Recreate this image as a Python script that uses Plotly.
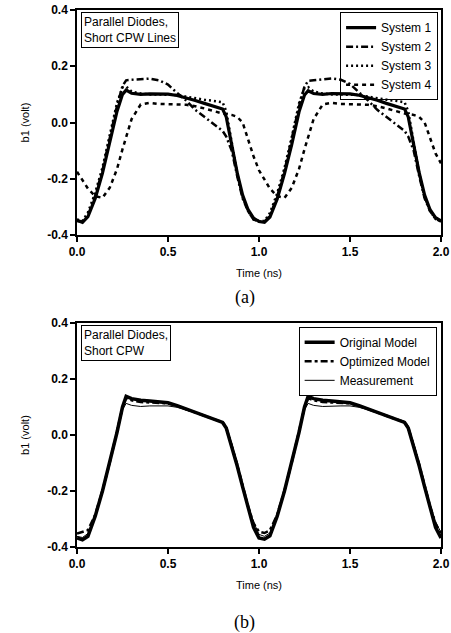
import plotly.graph_objects as go

# ---------------- data ----------------
time_ns = [0.0, 0.03, 0.06, 0.1, 0.14, 0.18, 0.22, 0.25, 0.27, 0.3, 0.35, 0.4, 0.45, 0.5,
           0.55, 0.6, 0.65, 0.7, 0.75, 0.8, 0.82, 0.85, 0.88, 0.91, 0.94, 0.97,
           1.0, 1.03, 1.06, 1.1, 1.14, 1.18, 1.22, 1.25, 1.27, 1.3, 1.35, 1.4, 1.45, 1.5,
           1.55, 1.6, 1.65, 1.7, 1.75, 1.8, 1.82, 1.85, 1.88, 1.91, 1.94, 1.97, 2.0]

system1 = [-0.348, -0.355, -0.335, -0.27, -0.18, -0.075, 0.04, 0.1, 0.115, 0.104, 0.1, 0.102, 0.102, 0.101,
           0.096, 0.088, 0.078, 0.068, 0.058, 0.048, 0.02, -0.08, -0.178, -0.258, -0.31, -0.34,
           -0.352, -0.355, -0.336, -0.272, -0.182, -0.078, 0.038, 0.098, 0.113, 0.103, 0.1, 0.103, 0.103, 0.102,
           0.097, 0.089, 0.079, 0.068, 0.058, 0.048, 0.02, -0.08, -0.178, -0.258, -0.31, -0.338, -0.35]

system2 = [-0.35, -0.352, -0.33, -0.26, -0.17, -0.06, 0.06, 0.13, 0.15, 0.152, 0.155, 0.156, 0.15, 0.135,
           0.105, 0.078, 0.045, 0.02, -0.005, -0.03, -0.05, -0.1, -0.19, -0.27, -0.315, -0.345,
           -0.352, -0.352, -0.332, -0.262, -0.172, -0.062, 0.058, 0.128, 0.148, 0.15, 0.154, 0.157, 0.152, 0.137,
           0.107, 0.078, 0.045, 0.02, -0.005, -0.03, -0.05, -0.1, -0.19, -0.27, -0.315, -0.343, -0.352]

system3 = [-0.345, -0.35, -0.32, -0.25, -0.16, -0.05, 0.07, 0.125, 0.128, 0.11, 0.103, 0.1, 0.1, 0.1,
           0.098, 0.092, 0.086, 0.081, 0.077, 0.072, 0.04, -0.07, -0.18, -0.265, -0.315, -0.345,
           -0.35, -0.35, -0.322, -0.252, -0.162, -0.052, 0.068, 0.123, 0.126, 0.11, 0.103, 0.1, 0.1, 0.1,
           0.098, 0.092, 0.086, 0.081, 0.077, 0.072, 0.04, -0.07, -0.18, -0.265, -0.315, -0.343, -0.35]

system4 = [-0.175, -0.205, -0.235, -0.262, -0.268, -0.232, -0.165, -0.095, -0.055, 0.012, 0.064, 0.07, 0.066, 0.064,
           0.064, 0.063, 0.058, 0.05, 0.04, 0.032, 0.03, 0.027, 0.02, 0.0, -0.06, -0.12,
           -0.17, -0.205, -0.235, -0.262, -0.268, -0.232, -0.165, -0.095, -0.055, 0.012, 0.064, 0.07, 0.066, 0.064,
           0.064, 0.063, 0.058, 0.05, 0.04, 0.032, 0.03, 0.027, 0.02, 0.0, -0.055, -0.11, -0.145]

original_model = [-0.368, -0.374, -0.362, -0.29, -0.2, -0.1, 0.01, 0.1, 0.138, 0.13, 0.124, 0.122, 0.12, 0.115,
                  0.105, 0.093, 0.081, 0.069, 0.057, 0.045, 0.025, -0.04, -0.11, -0.185, -0.26, -0.33,
                  -0.368, -0.372, -0.36, -0.29, -0.2, -0.1, 0.01, 0.1, 0.138, 0.13, 0.124, 0.122, 0.12, 0.115,
                  0.105, 0.093, 0.081, 0.069, 0.057, 0.045, 0.025, -0.04, -0.11, -0.185, -0.26, -0.33, -0.368]

optimized_model = [-0.352, -0.345, -0.34, -0.285, -0.198, -0.098, 0.012, 0.098, 0.132, 0.124, 0.118, 0.117, 0.116, 0.113,
                   0.104, 0.093, 0.081, 0.069, 0.057, 0.046, 0.027, -0.035, -0.105, -0.18, -0.255, -0.315,
                   -0.345, -0.35, -0.34, -0.285, -0.198, -0.098, 0.012, 0.098, 0.132, 0.124, 0.118, 0.117, 0.116, 0.113,
                   0.104, 0.093, 0.081, 0.069, 0.057, 0.046, 0.027, -0.035, -0.105, -0.18, -0.255, -0.315, -0.355]

measurement = [-0.362, -0.366, -0.352, -0.288, -0.2, -0.102, 0.005, 0.09, 0.113, 0.106, 0.102, 0.104, 0.104, 0.104,
               0.099, 0.09, 0.079, 0.068, 0.057, 0.047, 0.03, -0.03, -0.1, -0.175, -0.25, -0.31,
               -0.355, -0.362, -0.35, -0.288, -0.2, -0.102, 0.005, 0.09, 0.113, 0.106, 0.102, 0.104, 0.104, 0.104,
               0.099, 0.09, 0.079, 0.068, 0.057, 0.047, 0.03, -0.03, -0.1, -0.175, -0.25, -0.31, -0.348]

x_ticks = [0.0, 0.5, 1.0, 1.5, 2.0]
x_tick_labels = ["0.0", "0.5", "1.0", "1.5", "2.0"]
y_ticks = [-0.4, -0.2, 0.0, 0.2, 0.4]
y_tick_labels = ["-0.4", "-0.2", "0.0", "0.2", "0.4"]

# ---------------- figure ----------------
fig = go.Figure()

top_series = [
    ("System 1", system1, "solid", 3.2),
    ("System 2", system2, "7px,3px,2px,3px", 2.5),
    ("System 3", system3, "2px,3px", 2.5),
    ("System 4", system4, "4px,4px", 2.5),
]
for name, vals, dash, w in top_series:
    fig.add_trace(go.Scatter(x=time_ns, y=vals, mode="lines", name=name,
                             line=dict(color="black", width=w, dash=dash),
                             xaxis="x", yaxis="y", legend="legend"))

bottom_series = [
    ("Original Model", original_model, "solid", 3.5),
    ("Optimized Model", optimized_model, "7px,3px,3px,3px", 2.5),
    ("Measurement", measurement, "solid", 1.0),
]
for name, vals, dash, w in bottom_series:
    fig.add_trace(go.Scatter(x=time_ns, y=vals, mode="lines", name=name,
                             line=dict(color="black", width=w, dash=dash),
                             xaxis="x2", yaxis="y2", legend="legend2"))

font_sans = "Liberation Sans, Arial, sans-serif"

def xaxis_style(anchor):
    return dict(range=[0, 2], tickvals=x_ticks, ticktext=x_tick_labels, anchor=anchor,
                showline=True, mirror=True, linecolor="black", linewidth=1.5,
                ticks="outside", ticklen=5, tickwidth=1.5, tickcolor="black",
                showgrid=False, zeroline=False, ticklabeloverflow="allow", automargin=False,
                tickfont=dict(family=font_sans, size=12, color="black", weight="bold"),
                title=dict(text="Time (ns)", font=dict(family=font_sans, size=11, color="black"), standoff=11))

def yaxis_style(anchor, domain):
    return dict(range=[-0.4, 0.4], tickvals=y_ticks, ticktext=y_tick_labels, anchor=anchor, domain=domain,
                showline=True, mirror=True, linecolor="black", linewidth=1.5,
                ticks="outside", ticklen=5, tickwidth=1.5, tickcolor="black",
                showgrid=False, zeroline=False, ticklabeloverflow="allow", automargin=False,
                tickfont=dict(family=font_sans, size=12, color="black", weight="bold"),
                title=dict(text="b1 (volt)", font=dict(family=font_sans, size=11, color="black"), standoff=15))

legend_style = dict(bordercolor="black", borderwidth=1,
                    font=dict(family=font_sans, size=12, color="black"),
                    xanchor="right", yanchor="top", itemwidth=30, tracegroupgap=0)

fig.update_layout(
    width=451, height=633,
    margin=dict(l=77, r=10, t=10, b=86, autoexpand=False),
    paper_bgcolor="white", plot_bgcolor="white",
    showlegend=True,
    xaxis=xaxis_style("y"),
    yaxis=yaxis_style("x", [0.581, 1.0]),
    xaxis2=xaxis_style("y2"),
    yaxis2=yaxis_style("x2", [0.0, 0.417]),
    legend=dict(x=0.992, y=0.996, bgcolor="rgba(255,255,255,0)", **legend_style),
    legend2=dict(x=0.988, y=0.41, bgcolor="white", **legend_style),
    annotations=[
        dict(text="Parallel Diodes,<br>Short CPW Lines", xref="paper", yref="paper",
             x=0.011, y=0.996, xanchor="left", yanchor="top", align="left", showarrow=False,
             bordercolor="black", borderwidth=1, borderpad=2, bgcolor="white",
             font=dict(family=font_sans, size=12, color="black")),
        dict(text="Parallel Diodes,<br>Short CPW", xref="paper", yref="paper",
             x=0.011, y=0.413, xanchor="left", yanchor="top", align="left", showarrow=False,
             bordercolor="black", borderwidth=1, borderpad=2, bgcolor="white",
             font=dict(family=font_sans, size=12, color="black")),
        dict(text="(a)", xref="paper", yref="paper", x=0.4615, y=0.4655,
             xanchor="center", yanchor="middle", showarrow=False,
             font=dict(family="Liberation Serif, Times New Roman, serif", size=18, color="black")),
        dict(text="(b)", xref="paper", yref="paper", x=0.4615, y=-0.1397,
             xanchor="center", yanchor="middle", showarrow=False,
             font=dict(family="Liberation Serif, Times New Roman, serif", size=18, color="black")),
    ],
)

fig.write_html("out.html", config={"displayModeBar": False},
               post_script="document.body.style.margin='0';document.body.style.overflow='hidden';")
